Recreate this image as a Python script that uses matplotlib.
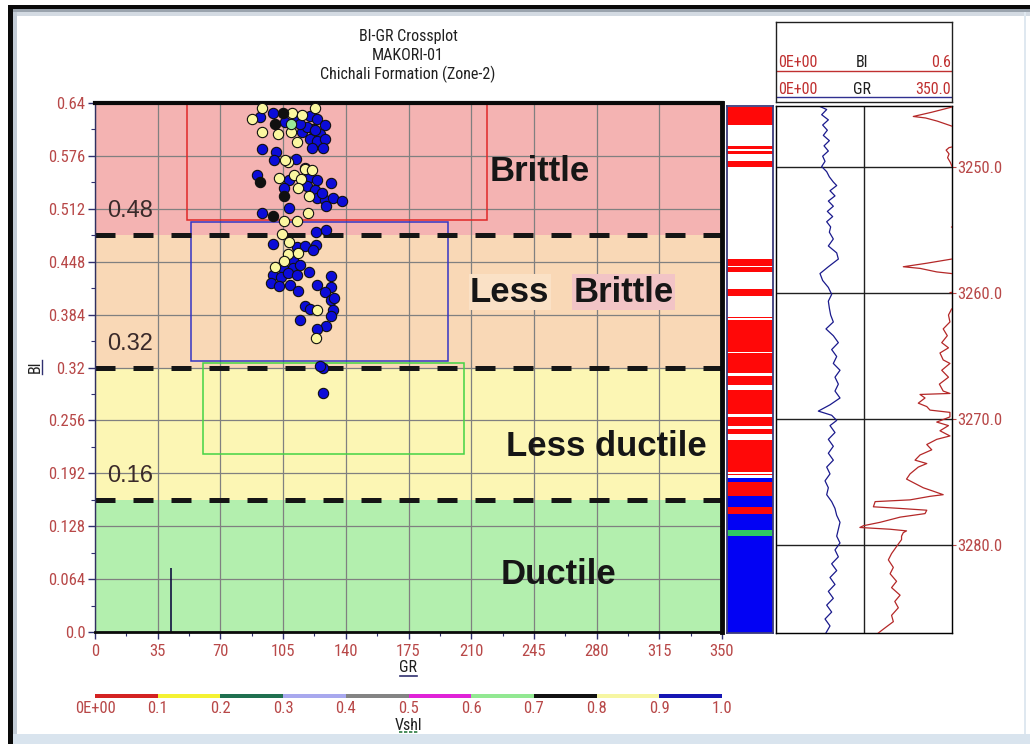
import numpy as np
import matplotlib.pyplot as plt
from matplotlib.patches import Rectangle
from matplotlib.lines import Line2D

plt.rcParams['font.family'] = ['Roboto Condensed', 'DejaVu Sans Condensed', 'Liberation Sans Narrow',
                               'Liberation Sans', 'DejaVu Sans']

# ---- crossplot samples (GR API, BI fraction) split by Vshl class ----
gr_blue = [92.0, 99.5, 106.0, 112.5, 120.0, 123.7, 128.3, 121.8, 125.5, 120.0, 123.7, 128.3, 127.4,
           120.9, 115.3, 118.1, 114.4, 122.7, 93.0, 101.0, 99.9, 112.1, 117.2, 90.2, 108.4, 120.0,
           123.7, 105.4, 118.1, 122.7, 132.0, 124.0, 128.3, 132.6, 137.6, 128.7, 126.5, 93.0, 108.4,
           123.1, 128.9, 99.1, 112.5, 117.2, 123.3, 121.8, 110.3, 105.0, 110.6, 114.4, 99.5, 104.1,
           107.9, 112.5, 119.4, 132.0, 98.0, 102.8, 108.8, 113.4, 123.7, 132.0, 128.3, 131.5, 133.3,
           117.2, 120.0, 133.0, 131.5, 114.7, 128.9, 123.7, 127.1, 125.5, 127.1]
bi_blue = [0.623, 0.628, 0.617, 0.623, 0.624, 0.621, 0.613, 0.609, 0.603, 0.596, 0.594, 0.597, 0.585,
           0.585, 0.605, 0.611, 0.615, 0.607, 0.584, 0.581, 0.571, 0.572, 0.561, 0.553, 0.547, 0.551,
           0.547, 0.537, 0.539, 0.535, 0.543, 0.525, 0.523, 0.525, 0.521, 0.515, 0.531, 0.507, 0.513,
           0.484, 0.486, 0.469, 0.466, 0.467, 0.468, 0.462, 0.450, 0.440, 0.440, 0.444, 0.432, 0.430,
           0.434, 0.432, 0.435, 0.431, 0.422, 0.418, 0.420, 0.412, 0.420, 0.417, 0.411, 0.402, 0.404,
           0.395, 0.391, 0.390, 0.382, 0.378, 0.370, 0.366, 0.319, 0.322, 0.289]
gr_yellow = [87.4, 93.0, 93.5, 102.3, 110.1, 115.7, 109.2, 122.7, 112.9, 107.9, 106.0, 117.2, 120.9,
             102.6, 111.2, 114.9, 113.4, 119.6, 119.0, 105.4, 112.9, 104.5, 108.4, 107.9, 113.4,
             105.4, 100.4, 124.0, 123.3]
bi_yellow = [0.621, 0.634, 0.605, 0.603, 0.628, 0.626, 0.605, 0.634, 0.593, 0.569, 0.571, 0.560, 0.559,
             0.549, 0.553, 0.548, 0.537, 0.528, 0.507, 0.497, 0.497, 0.482, 0.472, 0.457, 0.458,
             0.449, 0.442, 0.389, 0.356]
gr_black = [104.7, 100.4, 92.0, 105.4, 99.1]
bi_black = [0.628, 0.615, 0.544, 0.528, 0.503]
gr_green = [109.2]
bi_green = [0.615]

# brittleness cutoffs and zone names
cutoffs = [0.16, 0.32, 0.48]
zone_names = ['Ductile', 'Less ductile', 'Less', 'Brittle']

# selection windows drawn on the crossplot: (GR min, GR max, BI min, BI max)
red_window = (51.2, 219.0, 0.498, 0.64)
blue_window = (53.6, 196.9, 0.328, 0.496)
green_window = (60.2, 205.9, 0.215, 0.326)

# GR histogram spike
gr_spike = 42.2
spike_height = 0.077

# Vshl colour scale
vshl_bounds = [0.0, 0.1, 0.2, 0.3, 0.4, 0.5, 0.6, 0.7, 0.8, 0.9, 1.0]
vshl_labels = ['0E+00', '0.1', '0.2', '0.3', '0.4', '0.5', '0.6', '0.7', '0.8', '0.9', '1.0']

# ---- well log data (MD in m) ----
flag_tops = [3245.2, 3245.3, 3246.7, 3248.4, 3248.6, 3248.8, 3249.0, 3249.6, 3250.0, 3257.3, 3257.9,
             3258.0, 3258.4, 3259.7, 3260.3, 3261.9, 3262.05, 3262.2, 3264.7, 3264.8, 3266.4, 3266.6,
             3267.3, 3267.75, 3269.6, 3269.85, 3270.6, 3270.8, 3271.2, 3271.7, 3274.25, 3274.4,
             3274.5, 3274.7, 3275.05, 3276.15, 3277.0, 3277.6, 3278.8, 3279.3]
flag_codes = ['W', 'R', 'W', 'R', 'W', 'R', 'W', 'R', 'W', 'R', 'W',
              'R', 'W', 'R', 'W', 'R', 'W', 'R', 'W', 'R', 'W', 'R',
              'W', 'R', 'W', 'R', 'W', 'R', 'W', 'R', 'W', 'R',
              'W', 'B', 'R', 'B', 'R', 'B', 'G', 'B']
log_top, log_base = 3245.2, 3287.0

gr_depth = [3245.12, 3245.48, 3245.89, 3246.30, 3246.71, 3247.12, 3247.53, 3247.95, 3248.36, 3248.77,
            3249.18, 3249.59, 3250.00, 3250.41, 3250.82, 3251.23, 3251.51, 3251.92, 3252.33, 3252.74,
            3253.15, 3253.56, 3253.97, 3254.38, 3254.79, 3255.21, 3255.75, 3256.30, 3256.85, 3257.34,
            3257.95, 3258.49, 3259.04, 3259.59, 3260.14, 3260.68, 3261.23, 3261.78, 3262.33, 3262.88,
            3263.42, 3263.97, 3264.52, 3265.07, 3265.62, 3266.16, 3266.71, 3267.26, 3267.81, 3268.36,
            3268.90, 3269.40, 3269.73, 3270.14, 3270.55, 3271.10, 3271.64, 3272.19, 3272.74, 3273.29,
            3273.84, 3274.38, 3274.93, 3275.48, 3276.03, 3276.58, 3277.12, 3277.67, 3278.22, 3278.77,
            3279.32, 3279.86, 3280.41, 3280.96, 3281.51, 3282.05, 3282.60, 3283.15, 3283.70, 3284.25,
            3284.79, 3285.34, 3285.89, 3286.44, 3286.99]
gr_log = [80.9, 100.8, 90.8, 104.1, 92.8, 102.1, 94.1, 106.1, 95.5, 104.1,
          92.8, 97.5, 90.8, 100.8, 106.1, 114.0, 120.7, 107.4, 117.3, 104.1,
          114.0, 102.1, 112.7, 100.8, 108.7, 106.1, 114.0, 104.1, 120.7, 124.0,
          104.1, 87.5, 92.8, 104.1, 110.7, 104.1, 106.1, 108.7, 114.0, 99.4,
          114.0, 124.0, 110.7, 120.7, 114.0, 127.3, 117.3, 124.0, 117.3, 127.3,
          107.4, 84.2, 110.7, 120.7, 107.4, 117.3, 104.1, 114.0, 104.1, 114.0,
          100.8, 107.4, 97.5, 104.1, 100.8, 110.7, 117.3, 120.7, 127.3, 124.0,
          120.7, 127.3, 117.3, 124.0, 110.7, 120.7, 107.4, 117.3, 104.1, 114.0,
          100.8, 110.7, 97.5, 107.4, 99.4]

bi_depth = [3245.15, 3245.3, 3245.7, 3246.03, 3246.15, 3246.4, 3246.8, 3247.0, 3248.3, 3248.5,
            3248.7, 3249.0, 3249.3, 3249.7, 3250.0, 3250.2, 3254.7, 3254.8, 3254.9, 3257.2,
            3257.34, 3257.67, 3257.95, 3258.08, 3258.36, 3258.49, 3258.6, 3259.9, 3260.0, 3260.1,
            3261.2, 3261.29, 3261.78, 3262.33, 3262.88, 3263.42, 3263.97, 3264.38, 3264.79, 3265.34,
            3265.62, 3266.16, 3266.71, 3267.26, 3267.81, 3268.0, 3268.08, 3268.36, 3268.77, 3269.04,
            3269.32, 3269.5, 3269.86, 3270.27, 3270.55, 3270.96, 3271.37, 3271.64, 3272.05, 3272.47,
            3272.88, 3273.29, 3273.56, 3273.84, 3274.38, 3274.79, 3275.07, 3275.48, 3275.75, 3276.03,
            3276.16, 3276.30, 3276.44, 3276.58, 3276.99, 3277.12, 3277.26, 3277.53, 3277.81, 3277.95,
            3278.22, 3278.49, 3278.63, 3278.77, 3278.90, 3279.04, 3279.32, 3279.59, 3280.14, 3280.7,
            3281.2, 3281.8, 3282.3, 3282.9, 3283.4, 3284.0, 3284.5, 3285.0, 3285.6, 3286.1,
            3286.5, 3286.8, 3287.0]
bi_log = [0.62, 0.597, 0.53, 0.468, 0.51, 0.55, 0.60, 0.63, 0.63, 0.59,
          0.58, 0.59, 0.585, 0.595, 0.60, 0.63, 0.63, 0.598, 0.63, 0.63,
          0.599, 0.514, 0.434, 0.491, 0.548, 0.599, 0.63, 0.63, 0.593, 0.63,
          0.63, 0.599, 0.588, 0.593, 0.570, 0.584, 0.565, 0.588, 0.559, 0.570,
          0.593, 0.565, 0.588, 0.557, 0.570, 0.593, 0.491, 0.508, 0.485, 0.514,
          0.525, 0.593, 0.593, 0.548, 0.588, 0.559, 0.593, 0.548, 0.514, 0.531,
          0.491, 0.474, 0.514, 0.485, 0.457, 0.445, 0.468, 0.502, 0.536, 0.570,
          0.525, 0.491, 0.457, 0.338, 0.332, 0.423, 0.514, 0.508, 0.423, 0.400,
          0.355, 0.298, 0.286, 0.389, 0.445, 0.434, 0.428, 0.428, 0.411, 0.394,
          0.383, 0.400, 0.389, 0.411, 0.394, 0.423, 0.405, 0.417, 0.394, 0.400,
          0.377, 0.360, 0.349]
depth_marks = [3250.0, 3260.0, 3270.0, 3280.0]

W, H = 1030, 744
RED_TXT = '#b84848'
BOLD = ['Liberation Sans', 'DejaVu Sans']


def box(x0, y0, x1, y1):
    # pixel rectangle (top-left origin) -> figure fraction rect
    return [x0 / W, 1 - y1 / H, (x1 - x0) / W, (y1 - y0) / H]


def fig_rect(fig, x0, y0, x1, y1, color):
    fig.add_artist(Rectangle((x0 / W, 1 - y1 / H), (x1 - x0) / W, (y1 - y0) / H,
                             transform=fig.transFigure, color=color, lw=0, zorder=-5))


fig = plt.figure(figsize=(W / 100, H / 100), dpi=100)
fig.patch.set_facecolor('white')

# window frame
fig_rect(fig, 9, 5, 1030, 9, '#0a0a0a')
fig_rect(fig, 8, 5, 13, 744, '#0a0a0a')
fig_rect(fig, 13, 9, 1030, 12, '#9aa3ad')
fig_rect(fig, 13, 12, 1030, 16, '#d3dae2')
fig_rect(fig, 13, 12, 17, 744, '#c3ccd6')
fig_rect(fig, 1024, 12, 1026, 744, '#dfe8f0')
fig_rect(fig, 13, 734, 1030, 744, '#d9e4ee')

# ---- crossplot ----
ax = fig.add_axes(box(95, 103, 722, 632))
ax.set_xlim(0, 350)
ax.set_ylim(0, 0.64)

edges = [0.0] + cutoffs + [0.64]
band_colors = ['#b3efae', '#fcf6b4', '#f9d8b6', '#f4b3b2']
for lo, hi, c in zip(edges[:-1], edges[1:], band_colors):
    ax.axhspan(lo, hi, color=c, lw=0, zorder=0)

ax.set_axisbelow(True)
ax.set_xticks(np.arange(0, 351, 35))
ax.set_xticks(np.arange(0, 351, 17.5), minor=True)
ax.set_yticks(np.arange(0, 0.6401, 0.064))
ax.set_yticks(np.arange(0, 0.6401, 0.032), minor=True)
ax.set_xticklabels([f'{v:g}' for v in np.arange(0, 351, 35)])
ax.set_yticklabels(['0.0'] + [f'{v:.3f}'.rstrip('0') for v in np.arange(0.064, 0.6401, 0.064)])
ax.grid(True, which='major', color='#808080', lw=0.9)
ax.tick_params(which='both', direction='out', color='#303070', labelcolor=RED_TXT, labelsize=12)
ax.tick_params(which='major', length=5, width=1)
ax.tick_params(which='minor', length=3, width=0.8)
ax.tick_params(axis='y', pad=2)

for sp, c, w in [('top', '#0a0a0a', 3), ('right', '#0a0a0a', 3.5), ('bottom', '#0a0a0a', 2),
                 ('left', '#303060', 1)]:
    ax.spines[sp].set_color(c)
    ax.spines[sp].set_linewidth(w)

for v in cutoffs:
    ax.axhline(v, color='#151515', lw=3.6, ls=(0, (4, 3.6)), zorder=2.5)
    ax.text(7, v + 0.029, f'{v:.2f}', fontsize=17, color='#3a2a2a', va='center', ha='left',
            family=BOLD, zorder=4)

for (x0, x1, y0, y1), c in [(red_window, '#e02828'), (blue_window, '#3434c4'),
                            (green_window, '#44d444')]:
    ax.add_patch(Rectangle((x0, y0), x1 - x0, y1 - y0, fill=False, ec=c, lw=1.1, zorder=2))

ax.vlines(gr_spike, 0, spike_height, color='#101040', lw=1.2, zorder=2)

mk = dict(s=55, edgecolors='#101010', linewidths=0.8, zorder=3)
ax.scatter(gr_blue, bi_blue, c='#0c0cd8', **mk)
ax.scatter(gr_yellow, bi_yellow, c='#fbf7a0', **mk)
ax.scatter(gr_black, bi_black, c='#101010', **mk)
ax.scatter(gr_green, bi_green, c='#98e898', **mk)

zt = dict(fontsize=25, fontweight='bold', color='#161616', va='center', ha='center',
          family=BOLD, zorder=4)
ax.text(259, 0.069, zone_names[0], **zt)
ax.text(285.5, 0.224, zone_names[1], **zt)
ax.text(231.5, 0.411, zone_names[2], bbox=dict(fc='#fae1c6', ec='none', pad=1), **zt)
ax.text(295, 0.411, zone_names[3], bbox=dict(fc='#f2c4c6', ec='none', pad=1), **zt)
ax.text(248.5, 0.557, zone_names[3], **zt)

# titles and axis names
tt = dict(ha='center', va='center', fontsize=11.5, color='#202020')
fig.text(408 / W, 1 - 36 / H, 'BI-GR Crossplot', **tt)
fig.text(408 / W, 1 - 55 / H, 'MAKORI-01', **tt)
fig.text(408 / W, 1 - 74 / H, 'Chichali Formation (Zone-2)', **tt)
fig.text(35 / W, 1 - 367 / H, 'BI', rotation=90, ha='center', va='center', fontsize=11.5, color='#202020')
fig.add_artist(Line2D([42 / W, 42 / W], [1 - 360 / H, 1 - 374 / H], color='#303070', lw=1))
fig.text(408 / W, 1 - 668 / H, 'GR', **tt)
fig.add_artist(Line2D([400 / W, 417 / W], [1 - 676 / H, 1 - 676 / H], color='#303070', lw=1.2))
fig.text(408 / W, 1 - 725 / H, 'Vshl', **tt)
fig.add_artist(Line2D([399 / W, 418 / W], [1 - 732 / H, 1 - 732 / H], color='#2a7a40', lw=1.2,
                      ls=(0, (2, 1))))

# Vshl colour scale
vshl_colors = ['#d42222', '#f4f232', '#207050', '#a8a8ee', '#848484', '#e022d8', '#92e892',
               '#121212', '#f6f6a2', '#1616b4']
axc = fig.add_axes(box(95, 694, 722, 698))
for lo, hi, c in zip(vshl_bounds[:-1], vshl_bounds[1:], vshl_colors):
    axc.axvspan(lo, hi, color=c, lw=0)
axc.set_xlim(0, 1)
axc.set_ylim(0, 1)
axc.set_yticks([])
axc.set_xticks(vshl_bounds)
axc.set_xticklabels(vshl_labels)
axc.tick_params(length=0, pad=2, labelcolor=RED_TXT, labelsize=12)
for sp in axc.spines.values():
    sp.set_visible(False)

# ---- Vshl flag strip ----
flag_colors = {'W': 'white', 'R': '#ff0808', 'B': '#0202f4', 'G': '#30c862'}
axs = fig.add_axes(box(727, 106, 773, 633))
bases = flag_tops[1:] + [log_base]
for top, base, code in zip(flag_tops, bases, flag_codes):
    axs.axhspan(top, base, color=flag_colors[code], lw=0)
axs.set_ylim(log_base, log_top)
axs.set_xticks([])
axs.set_yticks([])
for sp in axs.spines.values():
    sp.set_color('#3c3c7c')
    sp.set_linewidth(1.3)

# ---- log track ----
axt = fig.add_axes(box(776, 106, 952, 633))
axt.set_xlim(0, 350)
axt.set_ylim(log_base, log_top)
axt.plot(gr_log, gr_depth, color='#1a1a8c', lw=0.9, zorder=3)
axt.axvline(175, color='#202020', lw=1)
for d in depth_marks:
    axt.axhline(d, color='#202020', lw=1)
axt.set_xticks([])
axt.yaxis.tick_right()
axt.set_yticks(depth_marks)
axt.set_yticklabels([f'{d:.1f}' for d in depth_marks])
axt.tick_params(axis='y', length=3, color=RED_TXT, labelcolor=RED_TXT, labelsize=12, pad=1)
for sp in axt.spines.values():
    sp.set_color('#202020')
    sp.set_linewidth(1)

axb = axt.twiny()
axb.set_xlim(0, 0.6)
axb.plot(bi_log, bi_depth, color='#b42828', lw=0.9, zorder=3)
axb.set_xticks([])

# track header
axh = fig.add_axes(box(776, 22, 952, 102))
axh.set_xlim(0, 1)
axh.set_ylim(0, 1)
axh.set_xticks([])
axh.set_yticks([])
for sp in axh.spines.values():
    sp.set_color('#202020')
    sp.set_linewidth(1)
ht = dict(fontsize=11.5, va='center')
axh.text(0.01, 0.49, '0E+00', ha='left', color='#c03030', **ht)
axh.text(0.49, 0.49, 'BI', ha='center', color='#202020', **ht)
axh.text(0.995, 0.49, '0.6', ha='right', color='#c03030', **ht)
axh.axhline(0.39, color='#c03030', lw=1)
axh.text(0.01, 0.15, '0E+00', ha='left', color='#c03030', **ht)
axh.text(0.49, 0.15, 'GR', ha='center', color='#202020', **ht)
axh.text(0.995, 0.15, '350.0', ha='right', color='#c03030', **ht)
axh.axhline(0.06, color='#303090', lw=1)

fig.savefig('out.png', dpi=100, facecolor=fig.get_facecolor())
